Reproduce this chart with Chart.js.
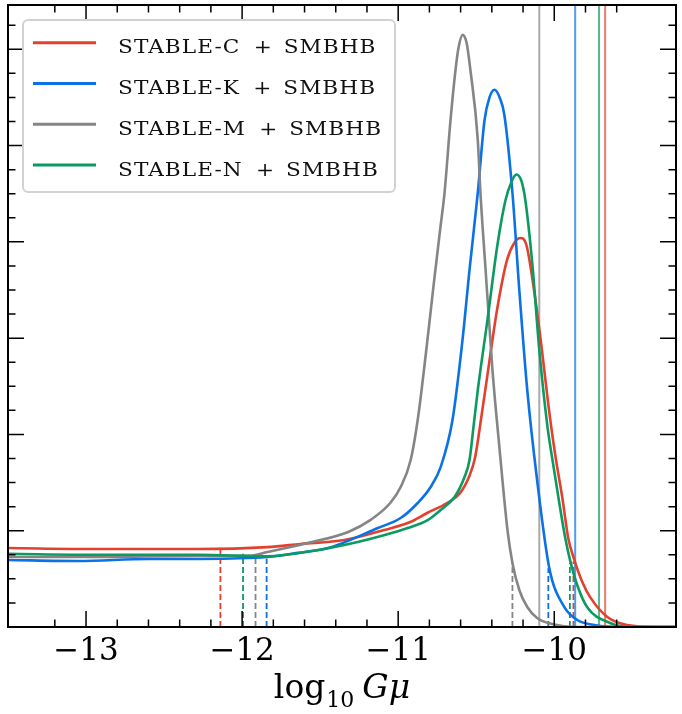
<!DOCTYPE html>
<html>
<head>
<meta charset="utf-8">
<script src="https://cdn.jsdelivr.net/npm/chart.js@4.4.1/dist/chart.umd.min.js"></script>
<style>
  html, body { margin: 0; padding: 0; background: #fff; }
  canvas { display: block; }
</style>
</head>
<body>
<canvas id="chart" width="682" height="714"></canvas>
<script>
// series order: C, K, M, N
const labels = ["STABLE-C + SMBHB", "STABLE-K + SMBHB", "STABLE-M + SMBHB", "STABLE-N + SMBHB"];

// log10 G mu, posterior density
const cX = [-13.5, -12.92, -12.28, -11.837, -11.626, -11.345, -11.09, -10.923, -10.815, -10.687, -10.604, -10.546, -10.508, -10.47, -10.431, -10.367, -10.303, -10.256, -10.217, -10.179, -10.128, -10.083, -10.038, -9.994, -9.949, -9.91, -9.872, -9.821, -9.77, -9.66, -9.534, -9.34, -9.22];
const cY = [0.82, 0.81, 0.81, 0.83, 0.862, 0.903, 1.007, 1.09, 1.184, 1.288, 1.39, 1.56, 1.755, 2.15, 2.585, 3.29, 3.81, 3.99, 4.04, 3.97, 3.48, 2.93, 2.31, 1.79, 1.35, 0.92, 0.70, 0.47, 0.31, 0.104, 0.021, 0, 0];

const kX = [-13.5, -13.05, -12.60, -12.28, -11.96, -11.837, -11.64, -11.45, -11.13, -10.984, -10.875, -10.792, -10.728, -10.652, -10.588, -10.543, -10.49, -10.447, -10.415, -10.383, -10.35, -10.32, -10.268, -10.224, -10.173, -10.11, -10.032, -9.936, -9.853, -9.744, -9.534, -9.22];
const kY = [0.696, 0.685, 0.706, 0.706, 0.716, 0.727, 0.77, 0.82, 1.028, 1.132, 1.288, 1.454, 1.661, 2.15, 2.98, 3.71, 4.51, 5.26, 5.50, 5.58, 5.50, 5.32, 4.51, 3.50, 2.46, 1.527, 0.613, 0.208, 0.073, 0.021, 0, 0];

const mX = [-13.5, -12.92, -12.28, -11.96, -11.837, -11.58, -11.32, -11.179, -11.051, -10.984, -10.92, -10.875, -10.824, -10.773, -10.728, -10.703, -10.665, -10.633, -10.614, -10.588, -10.562, -10.537, -10.49, -10.473, -10.44, -10.396, -10.35, -10.30, -10.268, -10.224, -10.173, -10.11, -10.013, -9.853, -9.22];
const mY = [0.727, 0.727, 0.737, 0.74, 0.779, 0.872, 0.987, 1.11, 1.288, 1.454, 1.734, 2.15, 2.82, 3.55, 4.17, 4.51, 5.26, 5.78, 6.01, 6.15, 6.07, 5.78, 5.06, 4.51, 3.71, 2.67, 1.84, 1.01, 0.665, 0.384, 0.208, 0.093, 0.031, 0, 0];

const nX = [-13.5, -12.92, -12.28, -11.837, -11.514, -11.259, -11.086, -10.939, -10.811, -10.728, -10.639, -10.575, -10.543, -10.518, -10.49, -10.428, -10.364, -10.313, -10.275, -10.243, -10.21, -10.185, -10.14, -10.096, -10.045, -10.006, -9.968, -9.929, -9.898, -9.853, -9.79, -9.642, -9.514, -9.22];
const nY = [0.76, 0.75, 0.75, 0.735, 0.80, 0.883, 0.955, 1.028, 1.11, 1.215, 1.35, 1.558, 1.734, 2.07, 2.46, 3.19, 3.97, 4.43, 4.62, 4.70, 4.63, 4.43, 3.76, 2.88, 2.10, 1.68, 1.29, 0.92, 0.69, 0.436, 0.208, 0.042, 0, 0];

// interval bounds (dashed) and upper limits (solid), C, K, M, N
const lowerX = [-12.139, -11.843, -11.914, -11.994];
const lowerTop = [0.81, 0.71, 0.73, 0.76];
const upperX = [-9.877, -10.038, -10.268, -9.90];
const upperTop = [0.68, 0.61, 0.665, 0.665];
const limitX = [-9.674, -9.866, -10.096, -9.713];

const xMin = -13.5, xMax = -9.22, yMax = 6.46;

const colors = ["#e3402d", "#0a72e6", "#858585", "#0b9a62"];
const limitColors = ["rgba(227,64,45,0.7)", "rgba(10,114,230,0.7)", "rgba(133,133,133,0.7)", "rgba(11,154,98,0.7)"];

const pts = (xs, ys) => xs.map((x, i) => ({ x, y: ys[i] }));
const curves = [pts(cX, cY), pts(kX, kY), pts(mX, mY), pts(nX, nY)];

const datasets = [];
curves.forEach((data, i) => {
  datasets.push({
    data, borderColor: colors[i], borderWidth: 2.6,
    cubicInterpolationMode: "monotone", order: 4 - i
  });
});
colors.forEach((c, i) => {
  datasets.push({ data: [{ x: lowerX[i], y: 0 }, { x: lowerX[i], y: lowerTop[i] }], borderColor: c, borderWidth: 1.8, borderDash: [6, 3], order: 10 });
  datasets.push({ data: [{ x: upperX[i], y: 0 }, { x: upperX[i], y: upperTop[i] }], borderColor: c, borderWidth: 1.8, borderDash: [6, 3], order: 10 });
  datasets.push({ data: [{ x: limitX[i], y: 0 }, { x: limitX[i], y: yMax }], borderColor: limitColors[i], borderWidth: 2, order: 8 });
});

const onStep = (v, k) => Math.abs(v * k - Math.round(v * k)) < 1e-6;

const frame = {
  id: "frame",
  afterDraw(chart) {
    const { ctx, chartArea: a, scales: { x, y } } = chart;
    ctx.save();
    ctx.strokeStyle = "#000";
    ctx.lineWidth = 1.5;
    ctx.beginPath();
    x.ticks.forEach(t => {
      if (!onStep(t.value, 5)) return;
      const len = onStep(t.value, 1) ? 16 : 7.5;
      const px = x.getPixelForValue(t.value);
      ctx.moveTo(px, a.bottom); ctx.lineTo(px, a.bottom - len);
      ctx.moveTo(px, a.top); ctx.lineTo(px, a.top + len);
    });
    y.ticks.forEach(t => {
      if (!onStep(t.value, 4)) return;
      const len = onStep(t.value, 1) ? 16 : 7.5;
      const py = y.getPixelForValue(t.value);
      ctx.moveTo(a.left, py); ctx.lineTo(a.left + len, py);
      ctx.moveTo(a.right, py); ctx.lineTo(a.right - len, py);
    });
    ctx.stroke();
    ctx.lineWidth = 2;
    ctx.strokeRect(a.left, a.top, a.right - a.left, a.bottom - a.top);

    // legend
    ctx.fillStyle = "rgba(255,255,255,0.85)";
    ctx.strokeStyle = "#d2d2d2";
    ctx.lineWidth = 2;
    ctx.beginPath();
    ctx.roundRect(23, 20, 372, 172, 5);
    ctx.fill();
    ctx.stroke();
    labels.forEach((lab, i) => {
      const yy = 42.7 + i * 40.8;
      ctx.strokeStyle = colors[i];
      ctx.lineWidth = 3;
      ctx.beginPath();
      ctx.moveTo(33, yy); ctx.lineTo(96, yy);
      ctx.stroke();
      const [left, right] = lab.split(" + ");
      ctx.save();
      ctx.translate(118, yy + 10.6);
      ctx.scale(1.2, 1);
      ctx.font = "18px 'DejaVu Serif'";
      ctx.letterSpacing = "0.9px";
      ctx.fillStyle = "#111";
      let cx = 0;
      ctx.fillText(left, cx, 0);
      cx += ctx.measureText(left).width + 11;
      ctx.fillText("+", cx, 0);
      cx += ctx.measureText("+").width + 9;
      ctx.fillText(right, cx, 0);
      ctx.restore();
    });

    // axis title: log10 G mu
    const base = 698;
    const parts = [
      { t: "log", f: "33px 'DejaVu Serif'", dy: 0, gap: 1 },
      { t: "10", f: "22px 'DejaVu Serif'", dy: 9, gap: 8 },
      { t: "G\u03bc", f: "italic 33px 'DejaVu Serif'", dy: 0, gap: 0 }
    ];
    let total = 0;
    parts.forEach(p => { ctx.font = p.f; p.w = ctx.measureText(p.t).width; total += p.w + p.gap; });
    let tx = (a.left + a.right) / 2 - total / 2;
    ctx.fillStyle = "#000";
    parts.forEach(p => { ctx.font = p.f; ctx.fillText(p.t, tx, base + p.dy); tx += p.w + p.gap; });
    ctx.restore();
  }
};

new Chart(document.getElementById("chart"), {
  type: "line",
  data: { datasets },
  options: {
    responsive: false,
    animation: false,
    devicePixelRatio: 1,
    layout: { padding: { left: 8, right: 2, top: 5, bottom: 0 } },
    elements: { point: { radius: 0 }, line: { fill: false } },
    plugins: { legend: { display: false }, tooltip: { enabled: false } },
    scales: {
      x: {
        type: "linear", min: xMin, max: xMax,
        grid: { display: false, drawTicks: false },
        border: { display: false },
        ticks: {
          stepSize: 0.2, autoSkip: false, maxRotation: 0, padding: 6,
          color: "#000", font: { family: "DejaVu Serif", size: 31 },
          callback: v => onStep(v, 1) ? "\u2212" + Math.abs(Math.round(v)) : ""
        },
        afterFit: s => { s.height = 87; }
      },
      y: {
        type: "linear", min: 0, max: yMax,
        grid: { display: false, drawTicks: false },
        border: { display: false },
        ticks: { display: false, stepSize: 0.25 },
        afterFit: s => { s.width = 0; }
      }
    }
  },
  plugins: [frame]
});
</script>
</body>
</html>
